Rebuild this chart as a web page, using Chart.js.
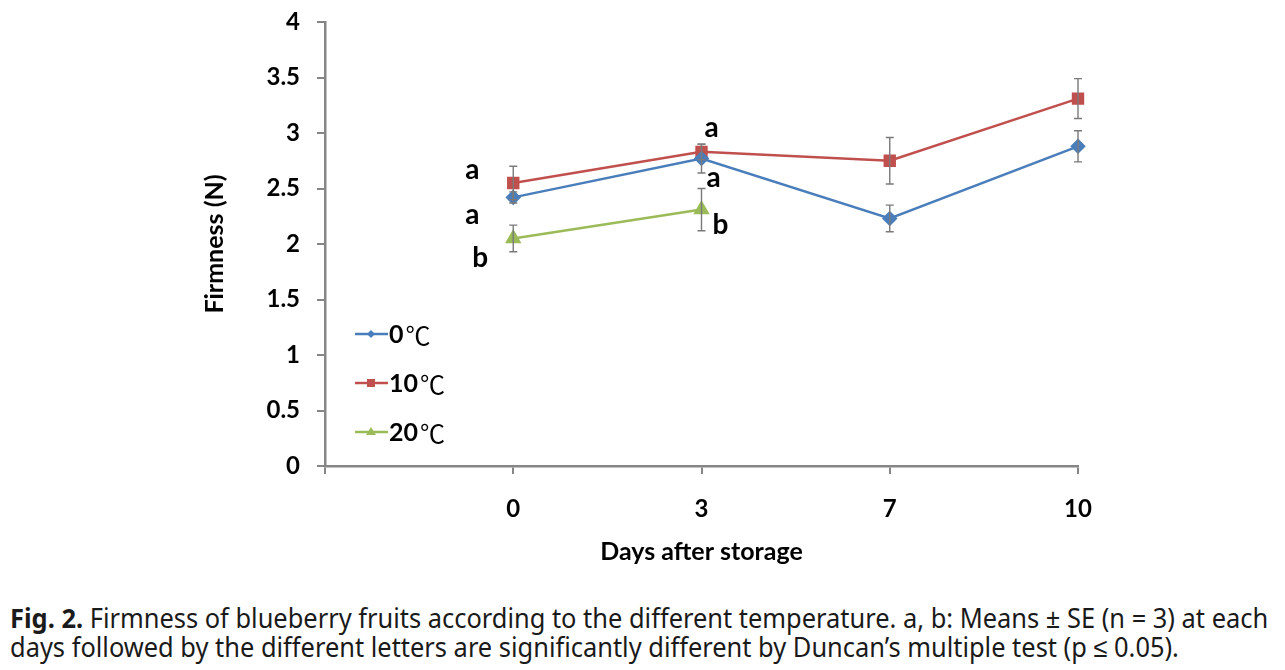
<!DOCTYPE html>
<html>
<head>
<meta charset="utf-8">
<script src="https://cdn.jsdelivr.net/npm/chart.js@4"></script>
<style>
  body { margin: 0; background: #fff; width: 1285px; height: 670px; overflow: hidden; }
  #wrap { position: relative; width: 1285px; height: 580px; }
  #caption { position: absolute; left: 10px; top: 603px; font-family: "Noto Sans", sans-serif; font-size: 27px; line-height: 29px; color: #1a1a1a; white-space: nowrap; transform-origin: 0 0; }
  #caption b { font-weight: 700; }
</style>
</head>
<body>
<div id="wrap"><canvas id="FirmnessChart" width="1285" height="580"></canvas></div>
<div id="caption"><div id="cap1"><b>Fig. 2.</b> Firmness of blueberry fruits according to the different temperature. a, b: Means ± SE (n = 3) at each</div><div id="cap2">days followed by the different letters are significantly different by Duncan’s multiple test (p ≤ 0.05).</div></div>
<script>
const days = ['', '0', '3', '7', '10'];
const firm0 = [null, 2.42, 2.77, 2.23, 2.88];
const firm10 = [null, 2.55, 2.83, 2.75, 3.31];
const firm20 = [null, 2.05, 2.31, null, null];
const se0 = [null, 0.05, 0.13, 0.12, 0.14];
const se10 = [null, 0.15, 0.07, 0.21, 0.18];
const se20 = [null, 0.12, 0.19, null, null];
const letters0 = [null, 'a', 'a', null, null];
const letters10 = [null, 'a', 'a', null, null];
const letters20 = [null, 'b', 'b', null, null];
const yTicks = [0, 0.5, 1, 1.5, 2, 2.5, 3, 3.5, 4];

const boldFont = 'Lato, "Noto Sans", sans-serif';
const axisGray = '#868686';

// offsets of the significance letters from their point (px)
const letterOffsets = [
    [null, [-41, 18], [12, 19], null, null],
    [null, [-41, -13], [10, -24], null, null],
    [null, [-33, 20], [19, 15], null, null]
];

const extras = {
    id: 'extras',
    afterDatasetsDraw(chart) {
        const ctx = chart.ctx;
        const y = chart.scales.y;
        const errs = [se0, se10, se20];
        const lets = [letters0, letters10, letters20];
        ctx.save();
        // error bars
        ctx.strokeStyle = '#7a7a7a';
        ctx.lineWidth = 1.4;
        chart.data.datasets.forEach((ds, i) => {
            const meta = chart.getDatasetMeta(i);
            meta.data.forEach((pt, j) => {
                const v = ds.data[j];
                if (v == null || errs[i][j] == null) return;
                const top = y.getPixelForValue(v + errs[i][j]);
                const bot = y.getPixelForValue(v - errs[i][j]);
                ctx.beginPath();
                ctx.moveTo(pt.x, top); ctx.lineTo(pt.x, bot);
                ctx.moveTo(pt.x - 4, top); ctx.lineTo(pt.x + 4, top);
                ctx.moveTo(pt.x - 4, bot); ctx.lineTo(pt.x + 4, bot);
                ctx.stroke();
            });
        });
        // letters
        ctx.fillStyle = '#000';
        ctx.font = 'bold 28px ' + boldFont;
        ctx.textAlign = 'center';
        ctx.textBaseline = 'middle';
        chart.data.datasets.forEach((ds, i) => {
            const meta = chart.getDatasetMeta(i);
            meta.data.forEach((pt, j) => {
                const l = lets[i][j];
                if (!l) return;
                const off = letterOffsets[i][j];
                ctx.fillText(l, pt.x + off[0], pt.y + off[1]);
            });
        });
        // legend inside the plot
        const area = chart.chartArea;
        const lx = area.left + 30;
        chart.data.datasets.forEach((ds, i) => {
            const ly = 334 + i * 49;
            ctx.strokeStyle = ds.borderColor;
            ctx.lineWidth = 2.5;
            ctx.beginPath();
            ctx.moveTo(lx, ly); ctx.lineTo(lx + 33, ly);
            ctx.stroke();
            ctx.fillStyle = ds.backgroundColor;
            const cx = lx + 16;
            ctx.beginPath();
            if (ds.pointStyle === 'rectRot') {
                ctx.moveTo(cx, ly - 4); ctx.lineTo(cx + 4, ly); ctx.lineTo(cx, ly + 4); ctx.lineTo(cx - 4, ly);
            } else if (ds.pointStyle === 'rect') {
                ctx.rect(cx - 4, ly - 4, 8, 8);
            } else {
                ctx.moveTo(cx, ly - 5); ctx.lineTo(cx + 5, ly + 3); ctx.lineTo(cx - 5, ly + 3);
            }
            ctx.fill();
            const parts = ds.label.split('℃');
            ctx.fillStyle = '#000';
            ctx.textAlign = 'left';
            ctx.font = 'bold 25px ' + boldFont;
            ctx.fillText(parts[0], lx + 34, ly + 1);
            const w = ctx.measureText(parts[0]).width;
            ctx.font = '25px "Noto Sans CJK KR", sans-serif';
            ctx.fillText('℃', lx + 36 + w, ly + 1);
        });
        ctx.restore();
    }
};

const ctx = document.getElementById('FirmnessChart').getContext('2d');
const chart = new Chart(ctx, {
    type: 'line',
    data: {
        labels: days,
        datasets: [{
            label: '0℃',
            data: firm0,
            borderColor: '#4a7ebb',
            backgroundColor: '#4a7ebb',
            pointStyle: 'rectRot',
            pointRadius: 6,
            borderWidth: 2.5
        }, {
            label: '10℃',
            data: firm10,
            borderColor: '#c0504d',
            backgroundColor: '#c0504d',
            pointStyle: 'rect',
            pointRadius: 7,
            borderWidth: 2.5
        }, {
            label: '20℃',
            data: firm20,
            borderColor: '#9bbb59',
            backgroundColor: '#9bbb59',
            pointStyle: 'triangle',
            pointRadius: 7,
            borderWidth: 2.5
        }]
    },
    options: {
        responsive: false,
        animation: false,
        layout: { padding: { left: 196, top: 22, right: 207, bottom: 9 } },
        plugins: { legend: { display: false }, tooltip: { enabled: false } },
        scales: {
            x: {
                offset: false,
                afterFit: s => { s.height = 105; },
                grid: { drawOnChartArea: false, drawTicks: true, tickLength: 8, color: axisGray, lineWidth: 2 },
                border: { color: axisGray, width: 2.5 },
                ticks: { color: '#000', font: { family: boldFont, size: 24, weight: 'bold' }, padding: 21, autoSkip: false, maxRotation: 0 },
                title: { display: true, text: 'Days after storage', color: '#000', font: { family: boldFont, size: 25, weight: 'bold' }, padding: 4 }
            },
            y: {
                min: 0,
                max: 4,
                afterFit: s => { s.width = 129; s.paddingTop = 0; s.paddingBottom = 0; },
                afterBuildTicks: s => { s.ticks = yTicks.map(v => ({ value: v })); },
                grid: { drawOnChartArea: false, drawTicks: true, tickLength: 8, color: axisGray, lineWidth: 2 },
                border: { color: axisGray, width: 2.5 },
                ticks: { color: '#000', font: { family: boldFont, size: 24, weight: 'bold' }, padding: 17, callback: v => String(v) },
                title: { display: true, text: 'Firmness (N)', color: '#000', font: { family: boldFont, size: 25, weight: 'bold' }, padding: 4 }
            }
        }
    },
    plugins: [extras]
});

// squeeze the caption lines to the reference width
const cap = document.getElementById('caption');
const w1 = document.getElementById('cap1').scrollWidth;
cap.style.transform = 'scaleX(' + (1258 / w1) + ')';
</script>
</body>
</html>
